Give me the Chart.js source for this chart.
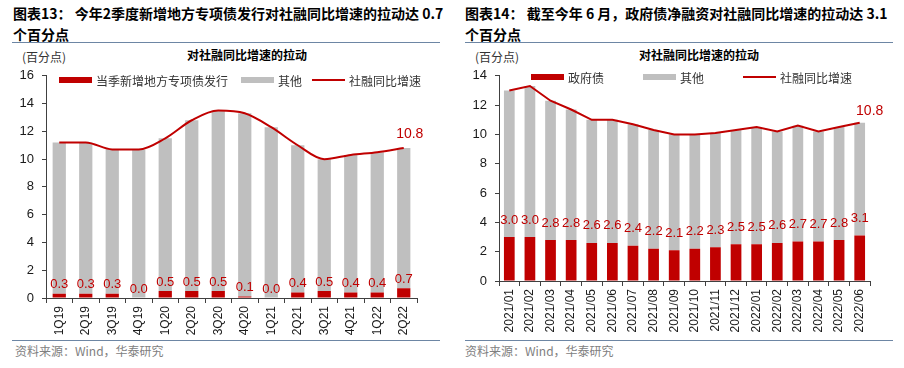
<!DOCTYPE html>
<html><head><meta charset="utf-8">
<script src="https://cdn.jsdelivr.net/npm/chart.js@4.4.1/dist/chart.umd.min.js"></script>
<style>
body{margin:0;width:904px;height:368px;background:#fff;position:relative;overflow:hidden;font-family:'Noto Sans CJK SC','Noto Sans',sans-serif;}
.title{position:absolute;font-weight:bold;font-size:14px;line-height:21px;color:#000;white-space:nowrap;}
.rule{position:absolute;height:0;border-top:1.5px solid #6d86a4;}
.ctitle{position:absolute;font-weight:bold;font-size:12px;line-height:16px;color:#000;transform:translateX(-50%);white-space:nowrap;}
.unit{position:absolute;font-size:12px;line-height:16px;color:#333;}
.src{position:absolute;font-size:12px;line-height:16px;color:#808080;}
.wrap{position:absolute;}
</style></head><body>
<div class="title" style="left:13px;top:3px;">图表13： 今年2季度新增地方专项债发行对社融同比增速的拉动达 0.7<br>个百分点</div>
<div class="rule" style="left:12px;top:42px;width:428px;"></div>
<div class="ctitle" style="left:247px;top:47px;">对社融同比增速的拉动</div>
<div class="unit" style="left:22px;top:49px;">(百分点)</div>
<div class="wrap" style="left:0;top:60px;width:450px;height:280px;"><canvas id="c1"></canvas></div>
<div class="rule" style="left:12px;top:340px;width:428px;"></div>
<div class="src" style="left:15px;top:343px;">资料来源：Wind，华泰研究</div>

<div class="title" style="left:465px;top:3px;">图表14： 截至今年 6 月，政府债净融资对社融同比增速的拉动达 3.1<br>个百分点</div>
<div class="rule" style="left:465px;top:42px;width:428px;"></div>
<div class="ctitle" style="left:699px;top:47px;">对社融同比增速的拉动</div>
<div class="unit" style="left:475px;top:49px;">(百分点)</div>
<div class="wrap" style="left:452px;top:60px;width:452px;height:280px;"><canvas id="c2"></canvas></div>
<div class="rule" style="left:465px;top:340px;width:428px;"></div>
<div class="src" style="left:465px;top:343px;">资料来源：Wind，华泰研究</div>

<script>
// ---- Chart 13 data ----
const quarters = ['1Q19','2Q19','3Q19','4Q19','1Q20','2Q20','3Q20','4Q20','1Q21','2Q21','3Q21','4Q21','1Q22','2Q22'];
const specialBond = [0.3,0.3,0.3,0.0,0.5,0.5,0.5,0.1,0.0,0.4,0.5,0.4,0.4,0.7];
const otherQ = [10.9,10.9,10.4,10.7,11.0,12.3,13.0,13.2,12.3,10.6,9.5,9.9,10.1,10.1];
const tsfGrowthQ = [11.2,11.2,10.7,10.7,11.5,12.8,13.5,13.3,12.3,11.0,10.0,10.3,10.5,10.8];
const yTicksLeft = [0,2,4,6,8,10,12,14,16];

// ---- Chart 14 data ----
const months = ['2021/01','2021/02','2021/03','2021/04','2021/05','2021/06','2021/07','2021/08','2021/09','2021/10','2021/11','2021/12','2022/01','2022/02','2022/03','2022/04','2022/05','2022/06'];
const govBond = [3.0,3.0,2.8,2.8,2.6,2.6,2.4,2.2,2.1,2.2,2.3,2.5,2.5,2.6,2.7,2.7,2.8,3.1];
const otherM = [10.0,10.3,9.5,8.9,8.4,8.4,8.3,8.1,7.9,7.8,7.8,7.8,8.0,7.6,7.9,7.5,7.7,7.7];
const tsfGrowthM = [13.0,13.3,12.3,11.7,11.0,11.0,10.7,10.3,10.0,10.0,10.1,10.3,10.5,10.2,10.6,10.2,10.5,10.8];
const yTicksRight = [0,2,4,6,8,10,12,14];

const RED = '#C00000', GRAY = '#BFBFBF', AXIS = '#404040';
const NUMFONT = '"Liberation Sans", Arial, sans-serif';
Chart.defaults.font.family = NUMFONT;
Chart.defaults.color = '#1a1a1a';

function makeAnnot(cfg){
  return {
    id: 'annot',
    afterDatasetsDraw(chart){
      const ctx = chart.ctx;
      ctx.save();
      ctx.font = '13px ' + NUMFONT;
      ctx.fillStyle = RED;
      ctx.textAlign = 'center';
      ctx.textBaseline = 'middle';
      const m0 = chart.getDatasetMeta(0), d0 = chart.data.datasets[0].data;
      m0.data.forEach((bar, i) => ctx.fillText(d0[i].toFixed(1), bar.x, bar.y - cfg.barOff));
      ctx.font = '14px ' + NUMFONT;
      const m2 = chart.getDatasetMeta(2), d2 = chart.data.datasets[2].data;
      const last = m2.data[m2.data.length - 1];
      ctx.fillText(d2[d2.length - 1].toFixed(1), last.x + cfg.endDx, last.y - cfg.endDy);
      // legend
      ctx.font = '12px "Noto Sans CJK SC", sans-serif';
      ctx.textAlign = 'left';
      cfg.legend.forEach(it => {
        const ds = chart.data.datasets[it.ds];
        const y = cfg.legendY;
        if (ds.type === 'line') {
          ctx.strokeStyle = ds.borderColor; ctx.lineWidth = 2;
          ctx.beginPath(); ctx.moveTo(it.x, y); ctx.lineTo(it.x + 33, y); ctx.stroke();
        } else {
          ctx.fillStyle = ds.backgroundColor; ctx.fillRect(it.x, y - 3, 33, 6);
        }
        ctx.fillStyle = '#333';
        ctx.fillText(ds.label, it.x + 37, y + 1);
      });
      ctx.restore();
    }
  };
}

function build(id, labels, bars0, bars1, line, names, ymax, yTicks, geo){
  return new Chart(document.getElementById(id), {
    data: {
      labels: labels,
      datasets: [
        {type:'bar', label:names[0], data:bars0, backgroundColor:RED, stack:'s', order:2,
         categoryPercentage:1, barPercentage:geo.barPct},
        {type:'bar', label:names[1], data:bars1, backgroundColor:GRAY, stack:'s', order:2,
         categoryPercentage:1, barPercentage:geo.barPct},
        {type:'line', label:names[2], data:line, borderColor:RED, backgroundColor:RED, borderWidth:2,
         pointRadius:0, tension:geo.tension, cubicInterpolationMode:geo.interp, stack:'line', order:0}
      ]
    },
    options: {
      responsive:true, maintainAspectRatio:false, animation:false,
      layout:{padding:{top:15, right:geo.padRight, bottom:0, left:0}},
      plugins:{legend:{display:false}, tooltip:{enabled:false}},
      scales:{
        x:{stacked:true, offset:true,
           grid:{display:true, drawOnChartArea:false, offset:true, tickLength:5, color:AXIS, tickColor:AXIS},
           border:{display:true, color:AXIS, width:1},
           ticks:{minRotation:90, maxRotation:90, autoSkip:false, padding:3, font:{size:12}, color:'#1a1a1a'},
           afterFit(s){ s.height = geo.xh; }},
        y:{stacked:true, min:0, max:ymax,
           afterBuildTicks(s){ s.ticks = yTicks.map(v => ({value:v})); },
           grid:{display:true, drawOnChartArea:false, tickLength:4, color:AXIS, tickColor:AXIS},
           border:{display:true, color:AXIS, width:1},
           ticks:{padding:8, font:{size:13}, color:'#1a1a1a'},
           afterFit(s){ s.width = geo.yw; }}
      }
    },
    plugins:[makeAnnot(geo.annot)]
  });
}

build('c1', quarters, specialBond, otherQ, tsfGrowthQ,
  ['当季新增地方专项债发行','其他','社融同比增速'], 16, yTicksLeft,
  {barPct:0.5, tension:0.4, interp:'monotone', padRight:33, xh:42, yw:46,
   annot:{barOff:9, endDx:6, endDy:14, legendY:20, legend:[{ds:0,x:59},{ds:1,x:241},{ds:2,x:312}]}});

build('c2', months, govBond, otherM, tsfGrowthM,
  ['政府债','其他','社融同比增速'], 14, yTicksRight,
  {barPct:0.52, tension:0, interp:'default', padRight:34, xh:59, yw:47,
   annot:{barOff:17, endDx:10, endDy:12, legendY:17, legend:[{ds:0,x:79},{ds:1,x:191},{ds:2,x:291}]}});
</script>
</body></html>
